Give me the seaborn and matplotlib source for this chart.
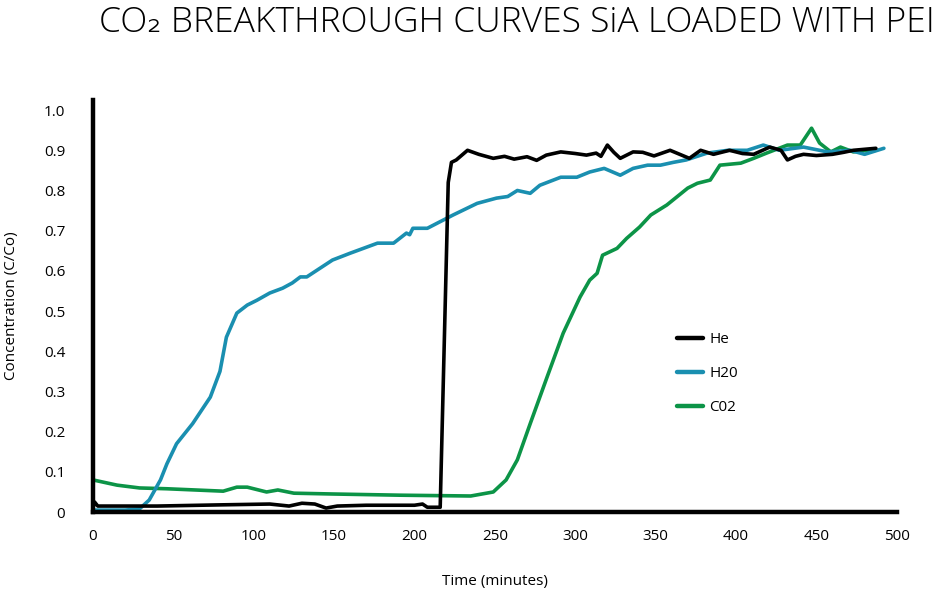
import numpy as np
import pandas as pd
import matplotlib
matplotlib.use("Agg")
import matplotlib.pyplot as plt
import seaborn as sns

# He (black) - time in minutes, C/Co
he_time = [0, 1, 3, 10, 40, 80, 110, 122, 130, 138, 145, 152, 170, 200, 205, 208, 214, 216,
           221, 223, 226, 233, 240, 249, 256, 262, 270, 276, 282, 291, 300, 307, 313, 316,
           320, 324, 328, 336, 342, 349, 359, 365, 371, 378, 386, 396, 404, 411, 421, 428,
           432, 437, 442, 450, 460, 467, 473, 487]
he_conc = [0.01, 0.025, 0.015, 0.015, 0.015, 0.018, 0.02, 0.015, 0.022, 0.02, 0.01, 0.015,
           0.017, 0.017, 0.02, 0.012, 0.012, 0.012,
           0.82, 0.87, 0.876, 0.90, 0.89, 0.88, 0.885, 0.878, 0.884, 0.875, 0.888, 0.896,
           0.892, 0.888, 0.893, 0.885, 0.913, 0.895, 0.88, 0.896, 0.895, 0.886, 0.90, 0.89,
           0.88, 0.90, 0.89, 0.90, 0.892, 0.89, 0.908, 0.90, 0.876, 0.885, 0.89, 0.887,
           0.89, 0.895, 0.90, 0.905]

# H2O (teal)
h2o_time = [0, 10, 20, 29, 35, 42, 46, 52, 62, 73, 79, 83, 89.5, 96, 102, 110, 118, 124,
            129, 133, 149, 160, 177, 187, 195, 197, 199, 208, 224, 239, 251, 258, 264,
            272, 278, 291, 301, 309, 318, 328, 336, 345, 353, 361, 369, 382, 395, 407,
            417, 427, 442, 457, 471, 480, 492]
h2o_conc = [0.005, 0.005, 0.005, 0.008, 0.03, 0.08, 0.12, 0.17, 0.22, 0.286, 0.35, 0.435,
            0.495, 0.515, 0.527, 0.545, 0.557, 0.57, 0.585, 0.585, 0.627, 0.644, 0.669,
            0.669, 0.694, 0.69, 0.706, 0.706, 0.739, 0.768, 0.781, 0.785, 0.80, 0.793,
            0.813, 0.833, 0.833, 0.846, 0.855, 0.838, 0.855, 0.863, 0.863, 0.87, 0.876,
            0.893, 0.90, 0.90, 0.913, 0.90, 0.908, 0.896, 0.90, 0.89, 0.905]

# CO2 (green)
co2_time = [0, 15, 29, 46, 81, 89.5, 96, 108, 115, 125, 149, 191, 235, 249, 257, 264, 272,
            282.5, 292.5, 303, 309, 313.6, 317, 326, 332, 340, 347, 357, 370, 376, 384,
            390, 403, 411, 419, 432, 440, 447, 452, 459, 465, 473, 482, 487]
co2_conc = [0.08, 0.067, 0.06, 0.058, 0.052, 0.062, 0.062, 0.05, 0.055, 0.047, 0.045,
            0.042, 0.04, 0.05, 0.08, 0.13, 0.22, 0.336, 0.445, 0.535, 0.577, 0.594, 0.639,
            0.656, 0.681, 0.709, 0.739, 0.764, 0.806, 0.818, 0.826, 0.863, 0.868, 0.88,
            0.893, 0.913, 0.913, 0.955, 0.918, 0.896, 0.908, 0.896, 0.90, 0.90]

series_names = ["He", "H20", "C02"]
palette = {"He": "#000000", "H20": "#1a8fb0", "C02": "#0c9447"}

x_ticks = [0, 50, 100, 150, 200, 250, 300, 350, 400, 450, 500]
y_ticks = [0, 0.1, 0.2, 0.3, 0.4, 0.5, 0.6, 0.7, 0.8, 0.9, 1.0]
y_tick_labels = ["0", "0.1", "0.2", "0.3", "0.4", "0.5", "0.6", "0.7", "0.8", "0.9", "1.0"]

frames = []
for name, t, c in zip(series_names, [he_time, h2o_time, co2_time], [he_conc, h2o_conc, co2_conc]):
    frames.append(pd.DataFrame({"time": t, "conc": c, "gas": name}))
df = pd.concat(frames, ignore_index=True)

sns.set_style("white")
plt.rcParams["font.family"] = ["Open Sans", "DejaVu Sans"]
plt.rcParams["text.color"] = "black"
plt.rcParams["axes.labelcolor"] = "black"
plt.rcParams["xtick.color"] = "black"
plt.rcParams["ytick.color"] = "black"

fig = plt.figure(figsize=(9.39, 5.92), dpi=100)
ax = fig.add_axes([0.099, 0.135, 0.856, 0.696])

# draw green and teal first, black on top
for name in ["C02", "H20", "He"]:
    sub = df[df["gas"] == name]
    sns.lineplot(data=sub, x="time", y="conc", color=palette[name], linewidth=2.6,
                 ax=ax, sort=False, estimator=None, label=name)

ax.set_xlim(0, 500)
ax.set_ylim(0, 1.025)
ax.set_xticks(x_ticks)
ax.set_xticklabels([str(v) for v in x_ticks], fontsize=11)
ax.set_yticks(y_ticks)
ax.set_yticklabels(y_tick_labels, fontsize=11)
ax.tick_params(axis="both", length=0)
ax.tick_params(axis="y", pad=20)
ax.tick_params(axis="x", pad=12)

for side in ["top", "right"]:
    ax.spines[side].set_visible(False)
for side in ["left", "bottom"]:
    ax.spines[side].set_linewidth(3.2)
    ax.spines[side].set_color("black")

ax.set_xlabel("Time (minutes)", fontsize=11, labelpad=22)
ax.set_ylabel("Concentration (C/Co)", fontsize=11, labelpad=18)

handles, labels = ax.get_legend_handles_labels()
order = [labels.index(n) for n in series_names]
leg = ax.legend([handles[i] for i in order], [labels[i] for i in order],
                loc="upper left", bbox_to_anchor=(0.71, 0.47), frameon=False,
                fontsize=11, handlelength=1.7, labelspacing=1.25, handletextpad=0.4)
for line in leg.get_lines():
    line.set_linewidth(3.2)

fig.text(0.996, 0.962, "CO\u2082 BREAKTHROUGH CURVES SiA LOADED WITH PEI",
         ha="right", va="center", fontsize=25.5, fontweight="light")

fig.savefig("out.png", dpi=100)
